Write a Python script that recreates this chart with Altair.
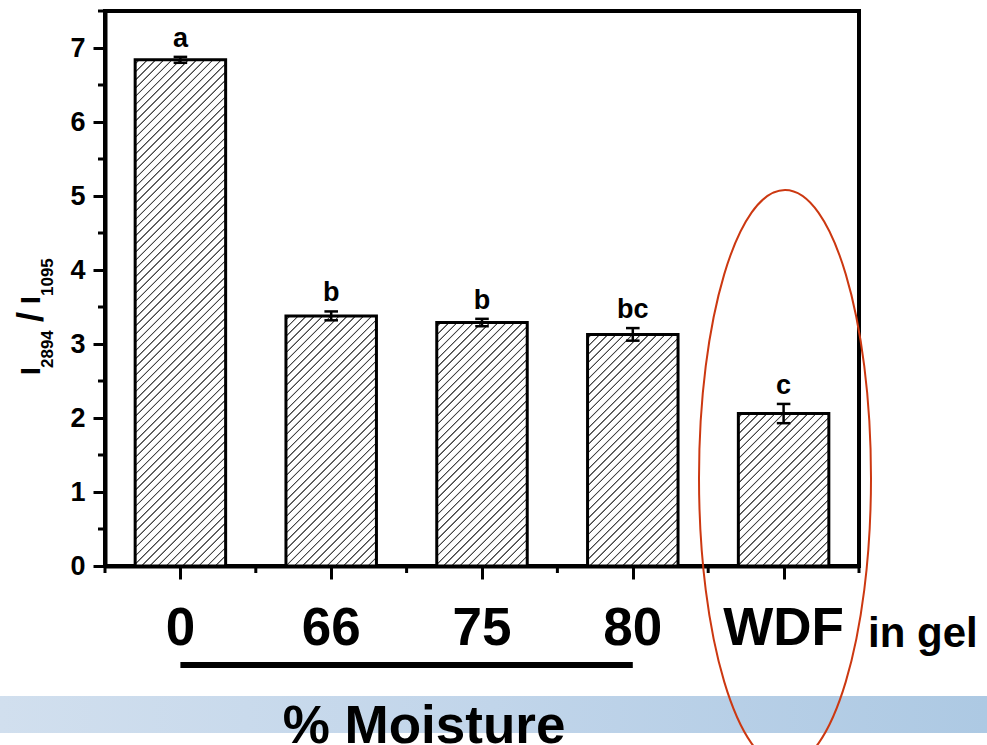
import altair as alt
import pandas as pd

# ---------------- data ----------------
categories = ["0", "66", "75", "80", "WDF"]
positions = [1, 2, 3, 4, 5]
means = [6.84, 3.38, 3.29, 3.13, 2.06]
errors = [0.04, 0.06, 0.05, 0.085, 0.13]
letters = ["a", "b", "b", "bc", "c"]
y_major = [0, 1, 2, 3, 4, 5, 6, 7]
y_minor = [0.5, 1.5, 2.5, 3.5, 4.5, 5.5, 6.5, 7.5]
x_minor = [0.5, 1.5, 2.5, 3.5, 4.5, 5.5]
bracket_from = [1]
bracket_to = [4]
note_label = ["in gel"]
group_label = ["% Moisture"]

# ---------------- geometry / style ----------------
W, H = 754, 555
Y_DOM = [0, 7.5]
X_DOM = [0.5, 5.5]
BAR_W = 0.6
CAP = 0.045
FONT = "Liberation Sans"
PX_PER_Y = H / (Y_DOM[1] - Y_DOM[0])
BAR_PX = BAR_W * W / (X_DOM[1] - X_DOM[0])
HATCH_STEP = 8.2
HATCH_COLOR = "#474747"

df = pd.DataFrame({"cat": categories, "pos": positions, "mean": means,
                   "err": errors, "letter": letters})
df["lo"] = df["mean"] - df["err"]
df["hi"] = df["mean"] + df["err"]
df["xl"] = df["pos"] - BAR_W / 2
df["xr"] = df["pos"] + BAR_W / 2
df["cl"] = df["pos"] - CAP
df["cr"] = df["pos"] + CAP

xscale = alt.Scale(domain=X_DOM, nice=False, zero=False)
yscale = alt.Scale(domain=Y_DOM, nice=False, zero=True)

x_axis = alt.Axis(values=positions, labels=False, ticks=True, tickSize=13,
                  tickWidth=3, tickColor="black", domainWidth=4,
                  domainColor="black", grid=False, title=None)
y_axis = alt.Axis(values=y_major, tickSize=12, tickWidth=3, tickColor="black",
                  domainWidth=4, domainColor="black", grid=False, title=None,
                  labelFont=FONT, labelFontSize=27, labelFontWeight="bold",
                  labelColor="black", labelPadding=8)


def X(field):
    return alt.X(field, scale=xscale, axis=x_axis)


def Y(field):
    return alt.Y(field, scale=yscale, axis=y_axis)


def hatch(h_px, w_px=BAR_PX):
    L = w_px + h_px
    n = int(L / HATCH_STEP) + 1
    core = 0.4 / L
    edge = 1.15 / L
    stops = [alt.GradientStop(offset=0, color="white")]
    for j in range(n):
        c = (j + 0.5) * HATCH_STEP / L
        if c - edge <= 0 or c + edge >= 1:
            continue
        stops += [alt.GradientStop(offset=c - edge, color="white"),
                  alt.GradientStop(offset=c - core, color=HATCH_COLOR),
                  alt.GradientStop(offset=c + core, color=HATCH_COLOR),
                  alt.GradientStop(offset=c + edge, color="white")]
    stops.append(alt.GradientStop(offset=1, color="white"))
    d = w_px * w_px + h_px * h_px
    return alt.LinearGradient(gradient="linear", stops=stops, x1=0, y1=0,
                              x2=w_px * L / d, y2=h_px * L / d)


base = alt.Chart(df)
layers = []

# background band for "% Moisture"
band = alt.Chart(pd.DataFrame({"label": group_label})).mark_rect(
    fill=alt.LinearGradient(gradient="linear", x1=0, y1=0, x2=1, y2=0,
                            stops=[alt.GradientStop(offset=0, color="#d1dfee"),
                                   alt.GradientStop(offset=0.5, color="#c1d5ea"),
                                   alt.GradientStop(offset=1, color="#adc9e3")])
).encode(x=alt.value(-105), x2=alt.value(882), y=alt.value(685), y2=alt.value(722))
layers.append(band)

# hatched bars
for i, cat in enumerate(categories):
    bar = base.transform_filter(alt.datum.cat == cat).mark_bar(
        fill=hatch(means[i] * PX_PER_Y), stroke="black", strokeWidth=3
    ).encode(x=X("xl:Q"), x2="xr:Q", y=Y("mean:Q"), y2=alt.datum(0))
    layers.append(bar)

# error bars
err = base.mark_rule(color="black", strokeWidth=2.5).encode(
    x=X("pos:Q"), y=Y("lo:Q"), y2="hi:Q")
cap_hi = base.mark_rule(color="black", strokeWidth=2.5).encode(
    x=X("cl:Q"), x2="cr:Q", y=Y("hi:Q"))
cap_lo = base.mark_rule(color="black", strokeWidth=2.5).encode(
    x=X("cl:Q"), x2="cr:Q", y=Y("lo:Q"))
layers += [err, cap_hi, cap_lo]

# significance letters
lett = base.mark_text(font=FONT, fontSize=27, fontWeight="bold", color="black",
                      baseline="alphabetic", dy=-10).encode(
    x=X("pos:Q"), y=Y("hi:Q"), text="letter:N")
layers.append(lett)

# minor ticks
ymin = alt.Chart(pd.DataFrame({"v": y_minor})).mark_rule(color="black", strokeWidth=3).encode(
    y=Y("v:Q"), x=alt.value(-7), x2=alt.value(0))
xmin = alt.Chart(pd.DataFrame({"v": x_minor})).mark_rule(color="black", strokeWidth=3).encode(
    x=X("v:Q"), y=alt.value(H), y2=alt.value(H + 7))
layers += [ymin, xmin]

# category labels
xlab = base.mark_text(font=FONT, fontSize=53, fontWeight="bold", color="black",
                      baseline="alphabetic").encode(
    x=X("pos:Q"), y=alt.value(634), text="cat:N")
layers.append(xlab)

note = alt.Chart(pd.DataFrame({"label": note_label})).mark_text(
    font=FONT, fontSize=42, fontWeight="bold", color="black",
    baseline="alphabetic", align="left").encode(
    x=alt.value(763), y=alt.value(636), text="label:N")
layers.append(note)

bracket = alt.Chart(pd.DataFrame({"a": bracket_from, "b": bracket_to})).mark_rule(
    color="black", strokeWidth=6).encode(
    x=X("a:Q"), x2="b:Q", y=alt.value(654))
layers.append(bracket)

group = alt.Chart(pd.DataFrame({"label": group_label})).mark_text(
    font=FONT, fontSize=53, fontWeight="bold", color="black",
    baseline="alphabetic", align="center").encode(
    x=alt.value(319), y=alt.value(732), text="label:N")
layers.append(group)

# y-axis title I2894/I1095 built from pieces
title_parts = [
    ("I", 28, -65, 364, "left"),
    ("2894", 17, -52, 357, "left"),
    ("/", 36, -62, 306, "center"),
    ("I", 28, -65, 293, "left"),
    ("1095", 17, -52, 285, "left"),
]
for txt, fs, xv, yv, al in title_parts:
    layers.append(
        alt.Chart(pd.DataFrame({"t": [txt]})).mark_text(
            font=FONT, fontSize=fs, fontWeight="bold", color="black",
            angle=270, align=al, baseline="alphabetic").encode(
            x=alt.value(xv), y=alt.value(yv), text="t:N"))

# red ellipse highlighting WDF
a = 86 / 288
k = 0.5523
ell = (f"M 0 -1 C {k*a:.4f} -1 {a:.4f} {-k:.4f} {a:.4f} 0 "
       f"C {a:.4f} {k:.4f} {k*a:.4f} 1 0 1 "
       f"C {-k*a:.4f} 1 {-a:.4f} {k:.4f} {-a:.4f} 0 "
       f"C {-a:.4f} {-k:.4f} {-k*a:.4f} -1 0 -1 Z")
ellipse = alt.Chart(pd.DataFrame({"c": ["WDF"]})).mark_point(
    shape=ell, size=576 * 576, filled=False, stroke="#cc3811", strokeWidth=2,
    opacity=1).encode(x=alt.value(680), y=alt.value(467))
layers.append(ellipse)

chart = alt.layer(*layers).properties(
    width=W, height=H,
    padding={"left": 105, "top": 11, "right": 128, "bottom": 179},
    autosize=alt.AutoSizeParams(type="none"),
    background="white",
).configure_view(stroke="black", strokeWidth=4)

chart.save("out.html", embed_options={"renderer": "svg", "actions": False})
